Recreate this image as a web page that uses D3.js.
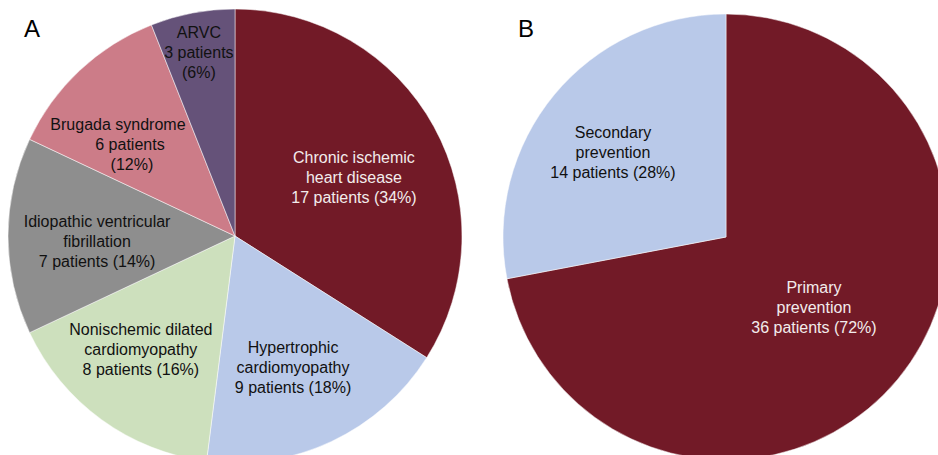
<!DOCTYPE html>
<html>
<head>
<meta charset="utf-8">
<script src="https://d3js.org/d3.v7.min.js"></script>
<style>
  html, body { margin: 0; padding: 0; background: #fff; }
  svg { display: block; }
  text { font-family: "Liberation Sans", Arial, Helvetica, sans-serif; }
</style>
</head>
<body>
<svg id="chart" width="938" height="455"></svg>
<script>
// panel A: underlying disease
const causeNames = ["Chronic ischemic heart disease", "Hypertrophic cardiomyopathy",
  "Nonischemic dilated cardiomyopathy", "Idiopathic ventricular fibrillation",
  "Brugada syndrome", "ARVC"]
const causePatients = [17, 9, 8, 7, 6, 3]
const causeLabels = [
  ["Chronic ischemic", "heart disease", "17 patients (34%)"],
  ["Hypertrophic", "cardiomyopathy", "9 patients (18%)"],
  ["Nonischemic dilated", "cardiomyopathy", "8 patients (16%)"],
  ["Idiopathic ventricular", "fibrillation", "7 patients (14%)"],
  ["Brugada syndrome", "6 patients", "(12%)"],
  ["ARVC", "3 patients", "(6%)"]
]

// panel B: indication
const indicationNames = ["Primary prevention", "Secondary prevention"]
const indicationPatients = [36, 14]
const indicationLabels = [
  ["Primary", "prevention", "36 patients (72%)"],
  ["Secondary", "prevention", "14 patients (28%)"]
]

// look
const causeColors = ["#721a27", "#b9c9e9", "#cde0bd", "#8e8e8e", "#cc7c88", "#655279"]
const causeText = ["#f2ecec", "#111", "#111", "#111", "#111", "#111"]
const indicationColors = ["#721a27", "#b9c9e9"]
const indicationText = ["#f2ecec", "#111"]
// label placement: fraction of radius, angle shift (deg), per-line x nudge
const causeLabelR = [0.585, 0.631, 0.648, 0.608, 0.635, 0.826]
const causeLabelShift = [2.4, 1.3, 3.8, -2.1, -7.2, -0.3]
const causeLineNudge = [null, null, null, null, [-6, 6, 8], null]
const indicationLabelR = [0.504, 0.633]
const indicationLabelShift = [-1.1, -2.8]
const indicationLineNudge = [null, null]

const svg = d3.select("#chart")

function drawPie(opts) {
  const g = svg.append("g").attr("transform", `translate(${opts.cx},${opts.cy})`)
  const pie = d3.pie().sort(null).value(d => d)
  const arcs = pie(opts.values)
  const arc = d3.arc().innerRadius(0).outerRadius(opts.r)

  g.selectAll("path.slice")
    .data(arcs)
    .enter()
    .append("path")
    .attr("class", "slice")
    .attr("d", arc)
    .attr("fill", (d, i) => opts.colors[i])
    .attr("stroke", "#fff")
    .attr("stroke-width", 0.5)

  const lab = g.selectAll("g.label")
    .data(arcs)
    .enter()
    .append("g")
    .attr("class", "label")
    .attr("transform", (d, i) => {
      const a = (d.startAngle + d.endAngle) / 2 + opts.shift[i] * Math.PI / 180
      const rr = opts.r * opts.labelR[i]
      return `translate(${rr * Math.sin(a)},${-rr * Math.cos(a)})`
    })

  lab.each(function(d, i) {
    const lines = opts.labels[i]
    const n = lines.length
    const nudge = opts.nudge[i]
    d3.select(this).selectAll("text")
      .data(lines)
      .enter()
      .append("text")
      .attr("text-anchor", "middle")
      .attr("x", (t, j) => nudge ? nudge[j] : 0)
      .attr("y", (t, j) => (j - (n - 1) / 2) * 20 + 6)
      .attr("font-size", 16)
      .attr("fill", opts.textColors[i])
      .text(t => t)
  })

  svg.append("text")
    .attr("x", opts.tagX)
    .attr("y", 37)
    .attr("font-size", 24)
    .attr("fill", "#000")
    .text(opts.tag)
}

drawPie({
  cx: 235, cy: 236, r: 227,
  values: causePatients, colors: causeColors, textColors: causeText,
  labels: causeLabels, labelR: causeLabelR, shift: causeLabelShift, nudge: causeLineNudge,
  tag: "A", tagX: 24
})

drawPie({
  cx: 726, cy: 237, r: 223,
  values: indicationPatients, colors: indicationColors, textColors: indicationText,
  labels: indicationLabels, labelR: indicationLabelR, shift: indicationLabelShift, nudge: indicationLineNudge,
  tag: "B", tagX: 518
})
</script>
</body>
</html>
